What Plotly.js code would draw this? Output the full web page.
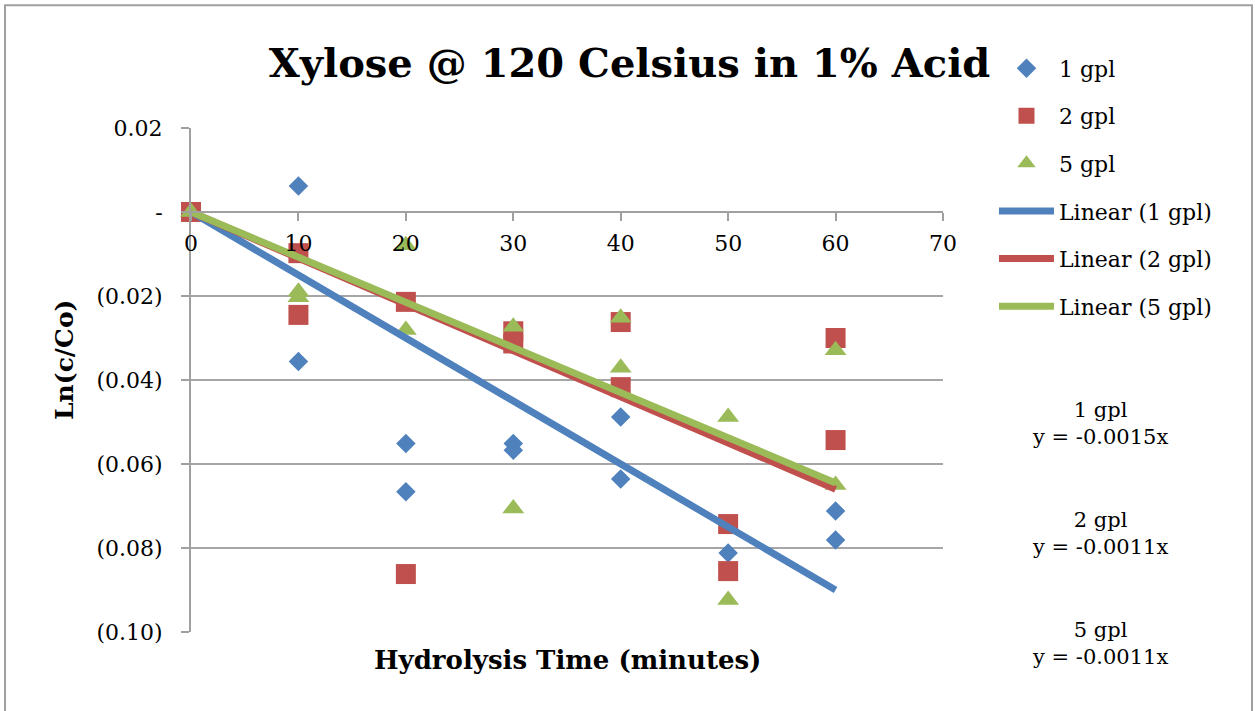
<!DOCTYPE html>
<html>
<head>
<meta charset="utf-8">
<script src="https://cdn.plot.ly/plotly-3.0.1.min.js"></script>
<style>html,body{margin:0;padding:0;background:#fff;}#chart{width:1255px;height:711px;}</style>
</head>
<body>
<div id="chart"></div>
<script>
// ---- data ----
const seriesNames = ["1 gpl", "2 gpl", "5 gpl"];
const x1 = [0, 10, 10, 20, 20, 30, 30, 40, 40, 50, 60, 60];
const y1 = [0, 0.0062, -0.0356, -0.0551, -0.0666, -0.0551, -0.0567, -0.0488, -0.0636, -0.0812, -0.0712, -0.0781];
const x2 = [0, 10, 10, 20, 20, 30, 30, 40, 40, 50, 50, 60, 60];
const y2 = [0, -0.0098, -0.0245, -0.0214, -0.0862, -0.0284, -0.0313, -0.0262, -0.0417, -0.0743, -0.0855, -0.0300, -0.0543];
const x5 = [0, 10, 10, 20, 20, 30, 30, 40, 40, 50, 50, 60, 60];
const y5 = [0, -0.0190, -0.0203, -0.0079, -0.0281, -0.0273, -0.0706, -0.0252, -0.0371, -0.0488, -0.0924, -0.0329, -0.0650];
const trendX = [0, 60];
const trendSlopes = [-0.0015, -0.0011, -0.001075];
const trendLabels = ["y = -0.0015x", "y = -0.0011x", "y = -0.0011x"];
const yTickVals = [0.02, 0, -0.02, -0.04, -0.06, -0.08, -0.10];
const yTickText = ["0.02", "-", "(0.02)", "(0.04)", "(0.06)", "(0.08)", "(0.10)"];
const xTickVals = [0, 10, 20, 30, 40, 50, 60, 70];

const colors = ["#4F81BD", "#C0504D", "#9BBB59"];
const symbols = ["diamond", "square", "triangle-up"];
const sizes = [15, 20, 19];
const FONT = "DejaVu Serif";

const xs = [x1, x2, x5];
const ys = [y1, y2, y5];
const traces = [];
for (let i = 0; i < 3; i++) {
  traces.push({
    x: xs[i], y: ys[i], type: "scatter", mode: "markers", name: seriesNames[i],
    legendgroup: "m" + i,
    marker: {color: colors[i], symbol: symbols[i], size: sizes[i], line: {width: 0}},
    cliponaxis: false
  });
}
for (let i = 0; i < 3; i++) {
  traces.push({
    x: trendX, y: trendX.map(v => v * trendSlopes[i]), type: "scatter", mode: "lines",
    name: "Linear (" + seriesNames[i] + ")", legendgroup: "l" + i,
    line: {color: colors[i], width: 7}
  });
}

const annotations = [
  {text: "Ln(c/Co)", xref: "paper", yref: "paper", x: -0.1676, y: 0.5397, showarrow: false,
   textangle: -90, font: {family: FONT, size: 25, color: "#000", weight: "bold"}, xanchor: "center", yanchor: "middle"},
  {text: "Hydrolysis Time (minutes)", xref: "paper", yref: "paper", x: 0.5007, y: -0.0556, showarrow: false,
   font: {family: FONT, size: 26, color: "#000", weight: "bold"}, xanchor: "center", yanchor: "middle"}
];
const eqY = [0.4127, 0.1964, -0.0238];
for (let i = 0; i < 3; i++) {
  annotations.push({text: seriesNames[i] + "<br>" + trendLabels[i], xref: "paper", yref: "paper",
    x: 1.2088, y: eqY[i], showarrow: false, align: "center",
    font: {family: FONT, size: 21, color: "#000"}, xanchor: "center", yanchor: "middle"});
}

const layout = {
  width: 1255, height: 711,
  margin: {l: 191, r: 312, t: 128, b: 79},
  paper_bgcolor: "#fff", plot_bgcolor: "#fff",
  font: {family: FONT, size: 21, color: "#000"},
  title: {text: "Xylose @ 120 Celsius in 1% Acid", x: 0.5016, xref: "container", xanchor: "center", y: 0.911, yanchor: "middle",
          font: {family: FONT, size: 40, color: "#000", weight: "bold"}},
  showlegend: true,
  legend: {x: 1.0678, y: 1.16, xanchor: "left", yanchor: "top", tracegroupgap: 16,
           font: {family: FONT, size: 22, color: "#000"}, itemwidth: 55, bgcolor: "rgba(0,0,0,0)"},
  xaxis: {range: [0, 70], tickvals: xTickVals, ticktext: xTickVals.map(String),
          anchor: "free", position: 0.8333, showline: true, linecolor: "#a0a0a0", linewidth: 2,
          ticks: "outside", ticklen: 8, tickcolor: "#a0a0a0", tickwidth: 2,
          showgrid: false, zeroline: false, tickfont: {family: FONT, size: 22, color: "#000"}, ticklabelstandoff: 4},
  yaxis: {range: [-0.10, 0.02], tickvals: yTickVals, ticktext: yTickText,
          showline: true, linecolor: "#a0a0a0", linewidth: 2,
          ticks: "outside", ticklen: 8, tickcolor: "#a0a0a0", tickwidth: 2,
          showgrid: true, gridcolor: "#a6a6a6", gridwidth: 2, zeroline: false,
          tickfont: {family: FONT, size: 22, color: "#000"}, ticklabelstandoff: 14},
  annotations: annotations,
  shapes: [{type: "rect", xref: "paper", yref: "paper", x0: -0.2473, x1: 1.4109, y0: -0.3, y1: 1.2436,
            line: {color: "#a0a0a0", width: 2}, fillcolor: "rgba(0,0,0,0)", layer: "below"}]
};

Plotly.newPlot("chart", traces, layout, {staticPlot: true});
</script>
</body>
</html>
